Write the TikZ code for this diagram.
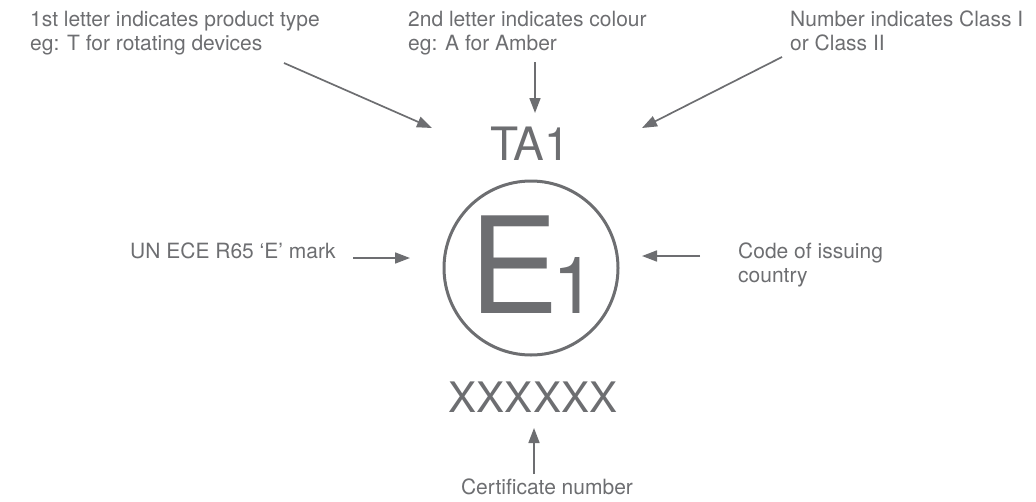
\documentclass[tikz,border=0pt]{standalone}
\usepackage{fontspec}
\setmainfont{TeX Gyre Heros}
\usetikzlibrary{arrows.meta}
\definecolor{markgrey}{RGB}{109,110,113}

\begin{document}
\begin{tikzpicture}[x=1pt,y=-1pt,
    note/.style={inner sep=0,align=left,anchor=base west,text=markgrey,
      font=\fontsize{21}{24}\selectfont},
    pointer/.style={draw=markgrey,line width=1.7pt,-{Triangle[length=15pt,width=11pt]}}]
    \useasboundingbox (0,0) rectangle (1036,501);
    % labels (base is the last line)
    \node[note] (ptype) at (30,50) {1st letter indicates product type\\eg: T for rotating devices};
    \node[note] (colour) at (408,50) {2nd letter indicates colour\\eg: A for Amber};
    \node[note] (classno) at (790,50) {Number indicates Class I\\or Class II};
    \node[note] (ecemark) at (130,258) {UN ECE R65 `E' mark};
    \node[note] (country) at (738,282) {Code of issuing\\country};
    \node[note,anchor=base] (certno) at (547,494) {Certificate number};
    % the mark
    \node[inner sep=0,anchor=base,text=markgrey,font=\fontsize{46}{46}\selectfont] (ta1) at (530,160) {TA1};
    \node[circle,draw=markgrey,line width=3pt,minimum size=174pt,inner sep=0] (emark) at (531,268) {};
    \node[inner sep=0,anchor=base west,text=markgrey,font=\fontsize{134}{134}\selectfont] (bigE) at (469,313) {E};
    \node[inner sep=0,anchor=base west,text=markgrey,font=\fontsize{79}{79}\selectfont] (idx) at (552,313) {1};
    \node[inner sep=0,anchor=base,text=markgrey,font=\fontsize{42}{42}\selectfont] (cert) at (533,412) {XXXXXX};
    % arrow ends
    \coordinate (ptype-from) at (284,63);
    \coordinate (ptype-to) at (432,128);
    \coordinate (colour-from) at (535,62);
    \coordinate (colour-to) at (535,113);
    \coordinate (classno-from) at (782,57);
    \coordinate (classno-to) at (642,128);
    \coordinate (ecemark-from) at (353,258);
    \coordinate (ecemark-to) at (410,258);
    \coordinate (country-from) at (700,256);
    \coordinate (country-to) at (642,256);
    \coordinate (certno-from) at (534,474);
    \coordinate (certno-to) at (534,428);
    \foreach \a in {ptype,colour,classno,ecemark,country,certno}
      {\draw[pointer] (\a-from) -- (\a-to);}
  \end{tikzpicture}
\end{document}
